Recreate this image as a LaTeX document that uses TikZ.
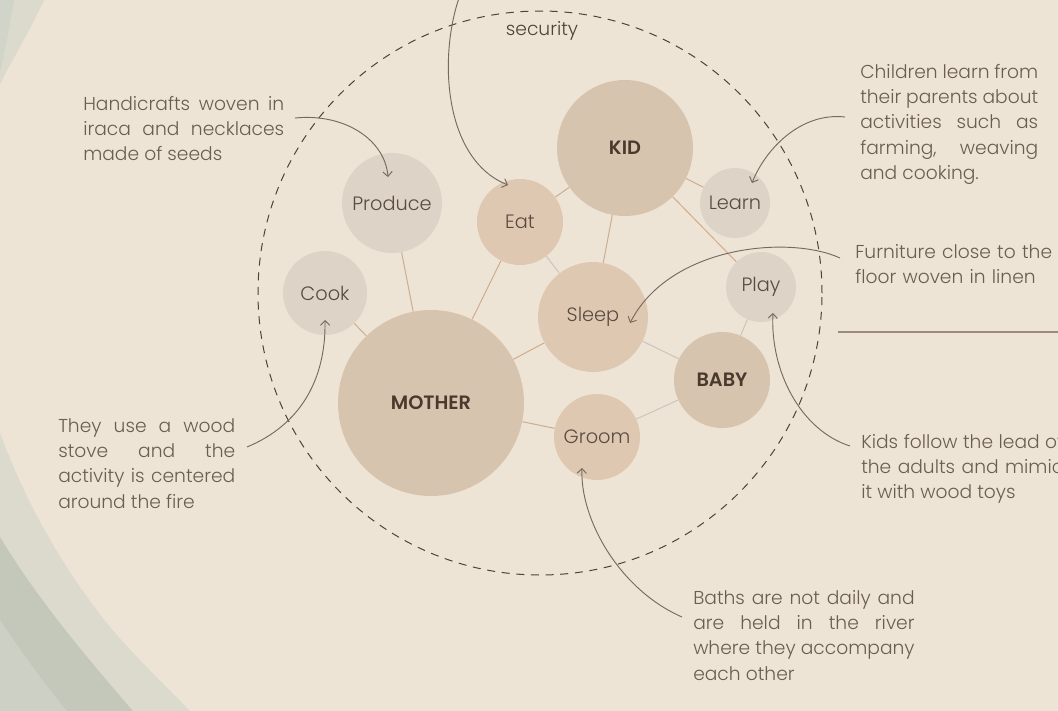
\documentclass[tikz,border=0pt]{standalone}
\usepackage{fontspec}
\setmainfont{Poppins Light}[BoldFont=Poppins SemiBold]
\usetikzlibrary{shapes,arrows.meta,calc}

\definecolor{paper}{HTML}{EEE4D5}
\definecolor{sageA}{HTML}{DCDACD}
\definecolor{sageB}{HTML}{C3C8BB}
\definecolor{sageC}{HTML}{CDD1C5}
\definecolor{sageTop}{HTML}{D1D4C8}
\definecolor{tanbig}{HTML}{D7C4AF}
\definecolor{peach}{HTML}{DFC8B2}
\definecolor{stone}{HTML}{DDD3C7}
\definecolor{tanline}{HTML}{CFAC8E}
\definecolor{greyline}{HTML}{C9C5C0}
\definecolor{inkline}{HTML}{76695F}
\definecolor{dashink}{HTML}{4F4239}
\definecolor{noteink}{HTML}{6A5D52}
\definecolor{labelink}{HTML}{5A4B40}
\definecolor{bossink}{HTML}{4A3A2D}
\definecolor{ruleink}{HTML}{9C8B7D}

\begin{document}
\begin{tikzpicture}[x=0.75pt,y=-0.75pt,
    bubble/.style={circle,
        inner sep=0pt,
        minimum size=#1,
        text=labelink,
        font=\fontsize{14.5}{17}\selectfont},
    boss/.style={text=bossink,
        font=\fontsize{14.5}{17}\selectfont\bfseries},
    note/.style={anchor=base west,
        inner sep=0pt,
        align=justify,
        text=noteink,
        font=\fontsize{14}{19.1}\selectfont},
    tie/.style={draw=tanline, line width=0.75pt},
    softtie/.style={draw=greyline, line width=0.75pt},
    pointer/.style={draw=inkline, line width=0.7pt,
        -{Straight Barb[length=3.5pt,width=7pt]}}]

    \useasboundingbox (0,0) rectangle (1058,711);
    \fill[paper] (0,0) rectangle (1058,711);

    % sage waves on the left edge
    \fill[sageA] (0,0) -- (44,0) .. controls (30,30) and (15,55) .. (0,84) -- cycle;
    \fill[sageTop] (0,0) -- (14,0) .. controls (10,25) and (5,50) .. (0,72) -- cycle;
    \fill[sageA] (0,433) .. controls (25,500) and (60,565) .. (110,627)
        .. controls (140,662) and (170,690) .. (190,711) -- (0,711) -- cycle;
    \fill[sageB] (0,537) .. controls (35,595) and (80,650) .. (133,711) -- (0,711) -- cycle;
    \fill[sageC] (0,620) .. controls (20,650) and (45,685) .. (67,711) -- (0,711) -- cycle;

    % household boundary
    \draw[dashink, line width=0.75pt, dash pattern=on 6pt off 5pt]
        (540,293) circle[radius=211.5pt];

    \node[bubble=139.5pt, fill=tanbig, boss] (Mother) at (431,403) {MOTHER};
    \node[bubble=102pt, fill=tanbig, boss] (Kid) at (625,148) {KID};
    \node[bubble=72pt, fill=tanbig, boss] (Baby) at (722,380) {BABY};

    \node[bubble=64.5pt, fill=peach] (Eat) at (520,222) {Eat};
    \node[bubble=82.5pt, fill=peach] (Sleep) at (593,317) {Sleep};
    \node[bubble=64.5pt, fill=peach] (Groom) at (597,437) {Groom};

    \node[bubble=75pt, fill=stone] (Produce) at (392,203) {Produce};
    \node[bubble=63pt, fill=stone] (Cook) at (325,293) {Cook};
    \node[bubble=52.5pt, fill=stone] (Learn) at (735,203) {Learn};
    \node[bubble=52.5pt, fill=stone] (Play) at (761,287) {Play};

    \draw[tie] (Mother) -- (Produce);
    \draw[tie] (Mother) -- (Cook);
    \draw[tie] (Mother) -- (Eat);
    \draw[tie] (Mother) -- (Sleep);
    \draw[tie] (Mother) -- (Groom);
    \draw[tie] (Kid) -- (Eat);
    \draw[tie] (Kid) -- (Sleep);
    \draw[tie] (Kid) -- (Learn);
    \draw[tie] (Kid) -- (Play);
    \draw[softtie] (Eat) -- (Sleep);
    \draw[softtie] (Sleep) -- (Baby);
    \draw[softtie] (Baby) -- (Play);
    \draw[softtie] (Baby) -- (Groom);

    \node[anchor=base, inner sep=0pt, text=dashink,
        font=\fontsize{14}{17}\selectfont] (Security) at (542,35) {security};

    \node[note, text width=150.75pt] (HandiNote) at (83,110)
        {Handicrafts woven in\linebreak iraca and necklaces\linebreak made of seeds};
    \node[note, text width=132.75pt] (StoveNote) at (58,432)
        {They use a wood\linebreak stove and the\linebreak activity is centered\linebreak around the fire};
    \node[note, text width=133.5pt] (LearnNote) at (860,78)
        {Children learn from\linebreak their parents about\linebreak activities such as\linebreak farming, weaving\linebreak and cooking.};
    \node[note, text width=160pt, align=left] (FurnNote) at (855,258)
        {Furniture close to the\\ floor woven in linen};
    \node[note, text width=151.5pt] (ToysNote) at (861,448)
        {Kids follow the lead of\linebreak the adults and mimic\linebreak it with wood toys};
    \node[note, text width=166pt] (BathNote) at (693,604)
        {Baths are not daily and\linebreak are held in the river\linebreak where they accompany\linebreak each other};

    \coordinate (SecurityTail) at (459,-2);
    \coordinate (HandiTail) at (295,118);
    \coordinate (StoveTail) at (247,447);
    \coordinate (LearnTail) at (845,117);
    \coordinate (FurnTail) at (840,258);
    \coordinate (ToysTail) at (850,446);
    \coordinate (BathTail) at (682,617);

    \draw[pointer] (SecurityTail) .. controls (438,60) and (445,160) .. ($(Eat)+(-12,-37)$);
    \draw[pointer] (HandiTail) .. controls (345,113) and (385,140) .. ($(Produce)+(-4,-26)$);
    \draw[pointer] (StoveTail) .. controls (300,425) and (326,380) .. ($(Cook)+(0,27)$);
    \draw[pointer] (LearnTail) .. controls (800,112) and (765,150) .. ($(Learn)+(17,-20)$);
    \draw[pointer] (FurnTail) .. controls (790,235) and (670,245) .. ($(Sleep)+(37,6)$);
    \draw[pointer] (ToysTail) .. controls (800,430) and (770,370) .. ($(Play)+(12,26)$);
    \draw[pointer] (BathTail) .. controls (620,590) and (580,520) .. ($(Groom)+(-15,31)$);

    \coordinate (RuleStart) at (838,332);
    \coordinate (RuleEnd) at (1060,332);
    \draw[ruleink, line width=1pt] (RuleStart) -- (RuleEnd);

\end{tikzpicture}
\end{document}
